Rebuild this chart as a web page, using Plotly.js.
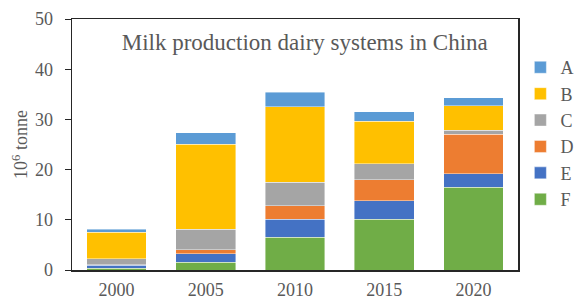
<!DOCTYPE html>
<html>
<head>
<meta charset="utf-8">
<script src="https://cdn.plot.ly/plotly-3.0.1.min.js"></script>
<style>html,body{margin:0;padding:0;background:#fff;}#chart{width:575px;height:301px;}</style>
</head>
<body>
<div id="chart"></div>
<script>
var years = ['2000', '2005', '2010', '2015', '2020'];
var seriesNames = ['F', 'E', 'D', 'C', 'B', 'A'];
var F = [0.3, 1.5, 6.5, 10.1, 16.5];
var E = [0.6, 1.7, 3.6, 3.7, 2.7];
var D = [0.1, 0.8, 2.7, 4.2, 7.8];
var C = [1.2, 4.1, 4.7, 3.2, 0.8];
var B = [5.3, 17.0, 15.0, 8.4, 4.9];
var A = [0.6, 2.2, 2.9, 1.9, 1.6];
var seriesValues = [F, E, D, C, B, A];
var colors = ['#70AD47', '#4472C4', '#ED7D31', '#A5A5A5', '#FFC000', '#5B9BD5'];

var font = '"Liberation Serif", serif';
var traces = seriesNames.map(function (n, i) {
  return {
    type: 'bar', name: n, x: years, y: seriesValues[i],
    marker: {color: colors[i], line: {color: 'rgba(255,255,255,0.7)', width: 0.6}},
    hoverinfo: 'x+y+name'
  };
});

var layout = {
  width: 575, height: 301,
  margin: {l: 72, r: 57, t: 19, b: 31, autoexpand: false},
  barmode: 'stack',
  bargap: 0.33,
  paper_bgcolor: '#fff', plot_bgcolor: '#fff',
  font: {family: font, color: '#595959', size: 18},
  title: {
    text: 'Milk production dairy systems in China',
    font: {family: font, size: 23, color: '#595959'},
    xref: 'container', yref: 'container',
    x: 0.530, xanchor: 'center', y: 0.86, yanchor: 'middle'
  },
  xaxis: {
    type: 'category',
    showline: true, linecolor: '#262626', linewidth: 1.5, mirror: true,
    ticks: '', showgrid: false, ticklabelstandoff: 3,
    tickfont: {family: font, size: 18, color: '#595959'}
  },
  yaxis: {
    range: [0, 50], dtick: 10,
    showline: true, linecolor: '#262626', linewidth: 1.5, mirror: true,
    ticks: 'outside', ticklen: 6, tickcolor: '#262626',
    showgrid: false, zeroline: false, ticklabelstandoff: 8,
    tickfont: {family: font, size: 18, color: '#595959'},
    title: {text: '10<sup>6</sup> tonne', font: {family: font, size: 18, color: '#595959'}, standoff: 2}
  },
  legend: {
    xref: 'container', yref: 'container',
    x: 0.905, xanchor: 'left', y: 0.837, yanchor: 'top',
    maxheight: 1,
    traceorder: 'reversed',
    font: {family: font, size: 18, color: '#595959'},
    itemwidth: 30
  },
  showlegend: true
};

Plotly.newPlot('chart', traces, layout, {displayModeBar: false, staticPlot: true});
</script>
</body>
</html>
